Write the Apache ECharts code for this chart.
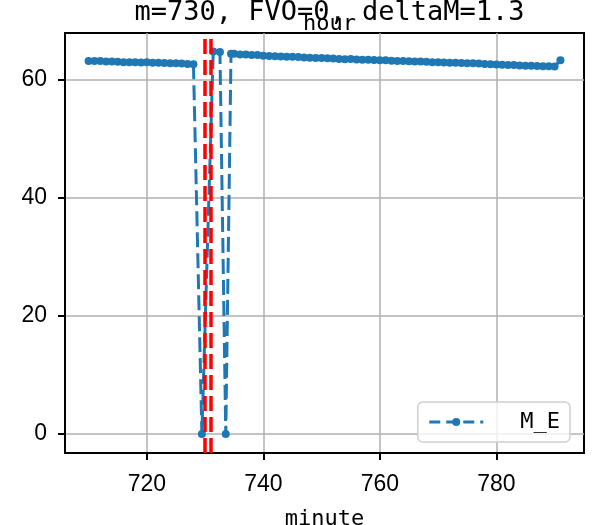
<!DOCTYPE html>
<html><head><meta charset="utf-8">
<script src="https://cdn.jsdelivr.net/npm/echarts@6/dist/echarts.min.js"></script>
<style>html,body{margin:0;padding:0;background:#fff}#c{width:594px;height:525px}</style>
</head><body><div id="c"></div>
<script>
var minutes = [710,711,712,713,714,715,716,717,718,719,720,721,722,723,724,725,726,727,728,
  729.45,731.4,732.55,733.55,734.45,
  735,736,737,738,739,740,741,742,743,744,745,746,747,748,749,750,751,752,753,754,755,756,757,758,759,760,
  761,762,763,764,765,766,767,768,769,770,771,772,773,774,775,776,777,778,779,780,
  781,782,783,784,785,786,787,788,789,790,791];
var mE = [63.1,63.1,63.1,63.0,63.0,62.95,62.9,62.9,62.9,62.85,62.9,62.8,62.8,62.75,62.7,62.7,62.65,62.6,62.55,
  0,64.7,64.6,0,64.3,
  64.3,64.2,64.2,64.1,64.1,64.0,63.95,63.9,63.85,63.8,63.8,63.75,63.7,63.65,63.6,63.6,63.55,63.5,63.45,63.4,63.45,63.35,63.3,63.3,63.25,63.2,
  63.2,63.15,63.1,63.1,63.05,63.0,63.0,62.95,62.9,62.9,62.85,62.8,62.8,62.75,62.7,62.7,62.65,62.6,62.55,62.5,
  62.45,62.4,62.4,62.35,62.3,62.3,62.25,62.2,62.2,62.15,63.2];
var vLines = [730, 731];
var xTicks = [720, 740, 760, 780];
var yTicks = [0, 20, 40, 60];
var titleText = 'm=730, FVO=0, deltaM=1.3';
var topAxisName = 'hour';
var seriesName = 'M_E';

var chart = echarts.init(document.getElementById('c'));
var mono = 'DejaVu Sans Mono';
chart.setOption({
  animation: false,
  title: [
    {text: titleText, left: 324.5, textAlign: 'center', top: -6,
     textStyle: {fontFamily: mono, fontSize: 27, fontWeight: 'normal', color: '#000'}},
    {text: topAxisName, left: 324.5, textAlign: 'center', top: 8,
     textStyle: {fontFamily: mono, fontSize: 22, fontWeight: 'normal', color: '#000'}}
  ],
  grid: {left: 65, right: 10, top: 33, bottom: 72, outerBoundsMode: 'none', containLabel: false,
         show: true, borderColor: '#000', borderWidth: 2, backgroundColor: 'transparent'},
  legend: {
    right: 24, bottom: 83, padding: [9, 10, 9, 10],
    backgroundColor: 'rgba(255,255,255,0.8)', borderColor: '#d0d0d0', borderWidth: 1.5, borderRadius: 5,
    itemWidth: 54, itemHeight: 10,
    lineStyle: {width: 3, type: [11, 6]},
    itemStyle: {borderWidth: 0},
    textStyle: {fontFamily: mono, fontSize: 22, color: '#000', padding: [0, 0, 0, 32]},
    data: [seriesName]
  },
  xAxis: {
    type: 'value', min: 705.95, max: 795.05,
    name: 'minute', nameLocation: 'middle', nameGap: 55,
    nameTextStyle: {fontFamily: mono, fontSize: 22, color: '#000'},
    axisLine: {show: true, onZero: false, lineStyle: {color: '#000', width: 2}},
    axisTick: {show: true, inside: false, customValues: xTicks, length: 7, lineStyle: {color: '#000', width: 2}},
    axisLabel: {customValues: xTicks, margin: 20, fontFamily: 'Liberation Sans', fontSize: 23, color: '#000'},
    splitLine: {show: true, lineStyle: {color: '#b0b0b0', width: 1.5}}
  },
  yAxis: {
    type: 'value', min: -3.23, max: 67.83,
    axisLine: {show: true, onZero: false, lineStyle: {color: '#000', width: 2}},
    axisTick: {show: true, inside: false, customValues: yTicks, length: 7, lineStyle: {color: '#000', width: 2}},
    axisLabel: {customValues: yTicks, margin: 18, fontFamily: 'Liberation Sans', fontSize: 23, color: '#000'},
    splitLine: {show: true, lineStyle: {color: '#b0b0b0', width: 1.5}}
  },
  series: [
    {
      name: seriesName, type: 'line',
      data: minutes.map(function (m, i) { return [m, mE[i]]; }),
      symbol: 'circle', symbolSize: 8, showSymbol: true,
      itemStyle: {color: '#1f77b4'},
      lineStyle: {color: '#1f77b4', width: 3, type: [15, 6]},
      z: 3
    },
    {
      name: 'vlines', type: 'line', data: [], z: 5,
      markLine: {
        silent: true, symbol: ['none', 'none'], label: {show: false},
        lineStyle: {color: '#ff0000', type: [15, 6], width: 3.5},
        data: vLines.map(function (v) { return {xAxis: v}; })
      }
    }
  ]
});
</script></body></html>
